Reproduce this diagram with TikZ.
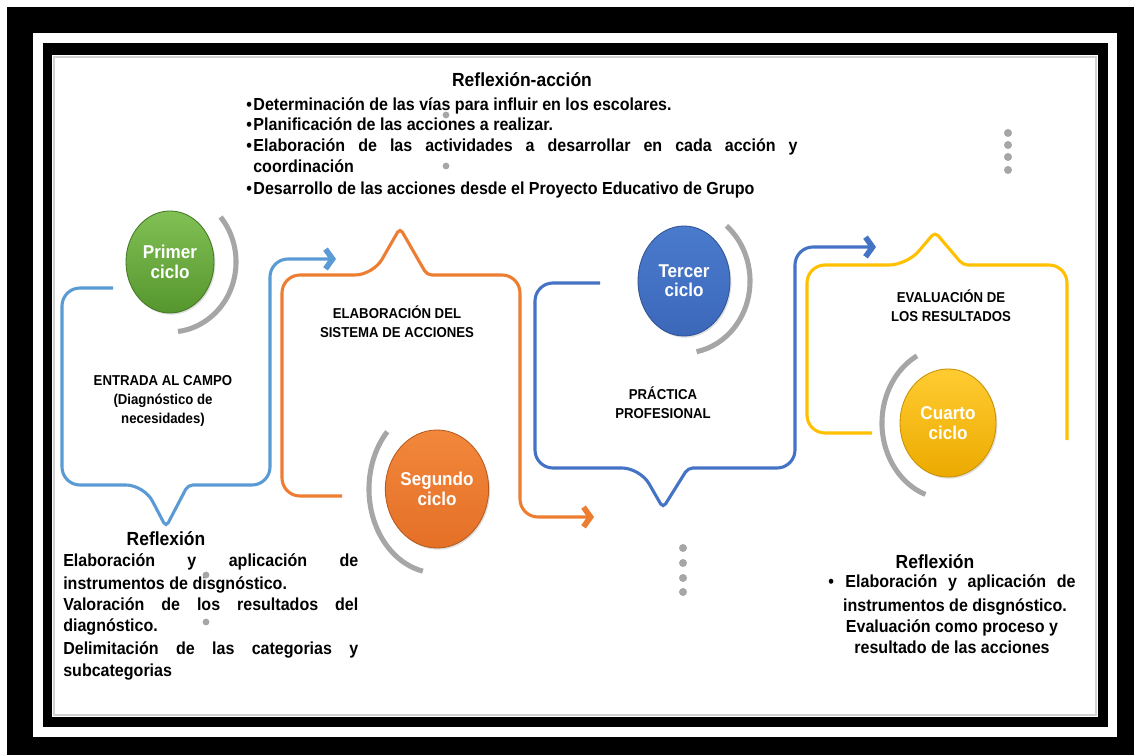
\documentclass[tikz,border=0pt]{standalone}
\usepackage{fontspec}
\setmainfont{Liberation Sans}[FakeStretch=0.92]
\usepackage{tikz}
\usetikzlibrary{shapes.geometric, arrows.meta, shadows}
\definecolor{azulclaro}{RGB}{91, 155, 213}
\definecolor{naranja}{RGB}{237, 125, 49}
\definecolor{azul}{RGB}{68, 114, 196}
\definecolor{amarillo}{RGB}{255, 192, 0}
\definecolor{gris}{RGB}{166, 166, 166}
\definecolor{verdesup}{RGB}{128, 192, 84}
\definecolor{verdeinf}{RGB}{86, 150, 46}
\definecolor{naranjasup}{RGB}{242, 135, 60}
\definecolor{naranjainf}{RGB}{228, 112, 38}
\definecolor{azulsup}{RGB}{74, 122, 204}
\definecolor{azulinf}{RGB}{60, 104, 186}
\definecolor{amarillosup}{RGB}{255, 204, 50}
\definecolor{amarilloinf}{RGB}{236, 170, 0}
\newcommand{\vineta}{\makebox[0.18cm][l]{\textbullet}}

\begin{document}
\begin{tikzpicture}[x=0.025cm, y=-0.025cm,
    ciclo/.style={ellipse, inner sep=0pt, align=center, text=white, line width=0.6pt,
        drop shadow={shadow xshift=1pt, shadow yshift=-1.2pt, opacity=0.25},
        font=\fontsize{13.2}{13.8}\selectfont\bfseries},
    trazo/.style={line width=2.2pt, rounded corners=0.45cm},
    punta/.style={-{Straight Barb[length=5pt, width=14pt, line width=4pt]}},
    arco/.style={line width=3.6pt, gris},
    etiqueta/.style={align=center, inner sep=0pt, font=\fontsize{10.2}{13.8}\selectfont\bfseries},
    linea/.style={inner sep=0pt, text height=9pt, text depth=2.5pt, font=\fontsize{12.4}{15}\selectfont\bfseries},
    titulo/.style={inner sep=0pt, font=\fontsize{13.5}{15}\selectfont\bfseries},
    punto/.style={fill=gris}]
    \useasboundingbox (0,0) rectangle (1134,755);

    % Marco
    \fill[white] (0,0) rectangle (1134,755);
    \fill[black] (7,7) rectangle (1134,755);
    \fill[white] (33,33) rectangle (1117,737);
    \fill[black] (43,43) rectangle (1108,727);
    \fill[white] (52,55) rectangle (1098,717);
    \draw[black!18, line width=2pt] (54,57) rectangle (1096,715);

    % Reflexion-accion
    \node[titulo] (reflaccion) at (522,80) {Reflexión-acción};
    \node[linea, anchor=west] (ra1) at (246,106) {\vineta Determinación de las vías para influir en los escolares.};
    \node[linea, anchor=west] (ra2) at (246,126) {\vineta Planificación de las acciones a realizar.};
    \node[linea, anchor=west] (ra3) at (246,147) {\vineta\makebox[13.6cm][s]{Elaboración de las actividades a desarrollar en cada acción y}};
    \node[linea, anchor=west] (ra4) at (253,168) {coordinación};
    \node[linea, anchor=west] (ra5) at (246,190) {\vineta Desarrollo de las acciones desde el Proyecto Educativo de Grupo};
    \fill[punto] (446,115) circle[radius=0.085cm];
    \fill[punto] (446,166) circle[radius=0.085cm];

    % Primer ciclo
    \draw[trazo, azulclaro, punta] (113,288) -- (62,288) -- (62,485) -- (144,485)
        [rounded corners=0.12cm] -- (166,527) -- (188,485)
        [rounded corners=0.45cm] -- (270,485) -- (270,259) -- (336,259);
    \node[ciclo, draw=verdeinf!80!black, top color=verdesup, bottom color=verdeinf,
        minimum width=2.2cm, minimum height=2.55cm] (primer) at (170,262) {Primer\\ciclo};
    \draw[arco] ([shift={(40:1.65cm and 1.75cm)}]primer.center)
        arc[start angle=40, end angle=-83, x radius=1.65cm, y radius=1.75cm];
    \node[etiqueta] (entrada) at (163,401) {ENTRADA AL CAMPO\\(Diagnóstico de\\necesidades)};

    % Segundo ciclo
    \draw[trazo, naranja, punta] (342,496) -- (282,496) -- (282,275) -- (373,275)
        [rounded corners=0.12cm] -- (400,228) -- (427,275)
        [rounded corners=0.45cm] -- (520,275) -- (520,517) -- (594,517);
    \node[ciclo, draw=naranjainf!80!black, top color=naranjasup, bottom color=naranjainf,
        minimum width=2.4cm, minimum height=2.95cm] (segundo) at (437,489) {Segundo\\ciclo};
    \draw[arco] ([shift={(137:1.7cm and 2.1cm)}]segundo.center)
        arc[start angle=137, end angle=258, x radius=1.7cm, y radius=2.1cm];
    \node[etiqueta] (elaboracion) at (397,322) {ELABORACIÓN DEL\\SISTEMA DE ACCIONES};

    % Tercer ciclo
    \draw[trazo, azul, punta] (600,283) -- (535,283) -- (535,468) -- (640,468)
        [rounded corners=0.12cm] -- (663,508) -- (688,468)
        [rounded corners=0.45cm] -- (795,468) -- (795,247) -- (876,247);
    \node[ciclo, draw=azulinf!80!black, top color=azulsup, bottom color=azulinf,
        minimum width=2.3cm, minimum height=2.75cm] (tercer) at (684,281) {Tercer\\ciclo};
    \draw[arco] ([shift={(50:1.65cm and 1.8cm)}]tercer.center)
        arc[start angle=50, end angle=-79, x radius=1.65cm, y radius=1.8cm];
    \node[etiqueta] (practica) at (663,403) {PRÁCTICA\\PROFESIONAL};

    % Cuarto ciclo
    \draw[trazo, amarillo] (872,433) -- (807,433) -- (807,265) -- (907,265)
        [rounded corners=0.12cm] -- (935,232) -- (963,265)
        [rounded corners=0.45cm] -- (1067,265) -- (1067,440);
    \node[ciclo, draw=amarilloinf!85!black, top color=amarillosup, bottom color=amarilloinf,
        minimum width=2.4cm, minimum height=2.7cm] (cuarto) at (948,423) {Cuarto\\ciclo};
    \draw[arco] ([shift={(118:1.65cm and 1.9cm)}]cuarto.center)
        arc[start angle=118, end angle=250, x radius=1.65cm, y radius=1.9cm];
    \node[etiqueta] (evaluacion) at (951,306) {EVALUACIÓN DE\\LOS RESULTADOS};

    % Puntos suspensivos
    \foreach \y in {548,563,578,592} \fill[punto] (683,\y) circle[radius=0.1cm];
    \foreach \y in {133,145,157,170} \fill[punto] (1008,\y) circle[radius=0.1cm];

    % Reflexion (izquierda)
    \node[titulo] (reflizq) at (166,539) {Reflexión};
    \node[linea, anchor=west] (ri1) at (63,562) {\makebox[7.375cm][s]{Elaboración y aplicación de}};
    \node[linea, anchor=west] (ri2) at (63,585) {instrumentos de disgnóstico.};
    \node[linea, anchor=west] (ri3) at (63,606) {\makebox[7.375cm][s]{Valoración de los resultados del}};
    \node[linea, anchor=west] (ri4) at (63,627) {diagnóstico.};
    \node[linea, anchor=west] (ri5) at (63,650) {\makebox[7.375cm][s]{Delimitación de las categorias y}};
    \node[linea, anchor=west] (ri6) at (63,672) {subcategorias};
    \fill[punto] (206,575) circle[radius=0.085cm];
    \fill[punto] (206,622) circle[radius=0.085cm];

    % Reflexion (derecha)
    \node[titulo] (reflder) at (935,562) {Reflexión};
    \node[linea, anchor=west] (rd1) at (828,583) {\makebox[0.43cm][l]{\textbullet}\makebox[5.75cm][s]{Elaboración y aplicación de}};
    \node[linea] (rd2) at (955,607) {instrumentos de disgnóstico.};
    \node[linea] (rd3) at (952,628) {Evaluación como proceso y};
    \node[linea] (rd4) at (952,649) {resultado de las acciones};
\end{tikzpicture}
\end{document}
